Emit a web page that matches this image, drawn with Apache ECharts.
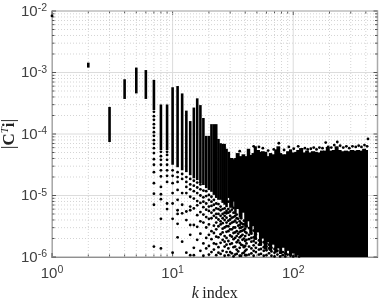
<!DOCTYPE html>
<html><head><meta charset="utf-8">
<style>html,body{margin:0;padding:0;background:#fff}#c{width:381px;height:301px}</style>
<script src="https://cdn.jsdelivr.net/npm/echarts@6/dist/echarts.min.js"></script>
</head><body><div id="c"></div>
<script>
// all magnitudes are log10(|C^T i|)
const xMajor = [1, 10, 100];
const xMinor = [2,3,4,5,6,7,8,9,20,30,40,50,60,70,80,90,200,300,400];
const yMajor = [1e-6,1e-5,1e-4,1e-3,1e-2];
const yMinor = [2e-6,3e-6,4e-6,5e-6,6e-6,7e-6,8e-6,9e-6,2e-5,3e-5,4e-5,5e-5,6e-5,7e-5,8e-5,9e-5,2e-4,3e-4,4e-4,5e-4,6e-4,7e-4,8e-4,9e-4,2e-3,3e-3,4e-3,5e-3,6e-3,7e-3,8e-3,9e-3];

// low-k columns that read as solid strokes
const colK   = [2,3,4,5,6,7,8,9,10,11,12,13,14,15,16,17,18,19,20,21,22,23,24,25,26,27,28];
const colTop = [-2.84,-3.56,-3.11,-2.92,-2.96,-3.12,-3.52,-3.52,-3.24,-3.22,-3.34,-3.62,-3.79,-3.57,-3.42,-3.53,-3.74,-4.03,-4.03,-3.84,-3.84,-3.84,-4.08,-4.15,-4.16,-4.16,-4.24];
const colBot = [-2.92,-4.13,-3.43,-3.34,-3.43,-3.61,-4.26,-4.26,-4.50,-4.54,-4.59,-4.62,-4.67,-4.72,-4.75,-4.80,-4.83,-4.88,-4.91,-4.94,-4.99,-5.04,-5.07,-5.07,-5.12,-5.15,-5.19];

// dense cloud: upper and lower limit of the solid area
const cloudK   = [29,30,32,33,34,36,38,40,42,44,46,48,50,53,55,58,61,64,67,71,74,78,81,86,89,94,98,104,108,114,121,128,135,143,152,160,170,180,190,201,213,225,238,252,268,285,300,320,339,358,380,402,417];
const cloudTop = [-4.29,-4.39,-4.41,-4.39,-4.31,-4.36,-4.33,-4.36,-4.24,-4.34,-4.31,-4.20,-4.26,-4.29,-4.28,-4.29,-4.36,-4.31,-4.33,-4.25,-4.20,-4.31,-4.33,-4.33,-4.28,-4.25,-4.30,-4.29,-4.26,-4.23,-4.30,-4.27,-4.30,-4.28,-4.29,-4.30,-4.27,-4.27,-4.21,-4.27,-4.26,-4.20,-4.26,-4.28,-4.27,-4.28,-4.26,-4.27,-4.26,-4.27,-4.24,-4.26,-4.26];
const cloudBot = [-5.04,-5.20,-5.10,-5.30,-5.22,-5.36,-5.28,-5.52,-5.42,-5.62,-5.50,-5.72,-5.60,-5.82,-5.70,-5.88,-5.76,-5.90,-5.80,-5.93,-5.86,-5.95,-5.85,-5.97,-5.90,-5.98,-5.94,-6,-5.97,-6,-6,-6,-6,-6,-6,-6,-6,-6,-6,-6,-6,-6,-6,-6,-6,-6,-6,-6,-6,-6,-6,-6,-6];

// separate points, one list per k
const dotK = [1,7,8,9,10,11,12,13,14,15,16,17,18,19,20,21,22,23,24,25,26,27,28,29,30,31,32,33,34,35,36,37,38,39,40,41,43,45,47,49,52,54,57,60,63,66,70,74,78,82,86,90,95,100,106,112,417];
const dotLog = [
 [-2.08],
 [-3.64,-3.71,-3.77,-3.84,-3.90,-3.97,-4.03,-4.10,-4.16,-4.23,-4.31,-4.41,-4.50,-4.62,-4.80,-4.97,-5.15,-5.83],
 [-4.29,-4.36,-4.42,-4.50,-4.59,-4.69,-4.86,-4.98,-5.06,-5.38,-5.86],
 [-4.29,-4.34,-4.42,-4.50,-4.59,-4.68,-4.78,-5.13,-5.22],
 [-4.59,-4.68,-4.80,-4.96,-5.13,-5.38,-5.93],
 [-4.62,-4.70,-4.78,-4.91,-5.07,-5.24,-5.30,-5.46,-5.68],
 [-4.65,-4.73,-4.96,-5.15,-5.29,-5.75],
 [-4.70,-4.78,-4.86,-4.96,-5.26,-5.40,-5.93],
 [-4.73,-4.82,-4.90,-5.02,-5.18,-5.24,-5.48,-5.64,-5.97],
 [-4.76,-4.84,-4.93,-5.05,-5.21,-5.48,-5.85,-5.97],
 [-4.79,-4.87,-4.96,-5.09,-5.16,-5.32,-5.51,-5.72],
 [-4.82,-4.90,-5.00,-5.12,-5.27,-5.42,-5.62,-5.90],
 [-4.92,-5.03,-5.10,-5.19,-5.31,-5.44,-5.78,-5.98],
 [-4.93,-5.01,-5.13,-5.23,-5.35,-5.52,-5.69,-5.86],
 [-4.99,-5.07,-5.18,-5.25,-5.38,-5.47,-5.64,-5.82,-5.96],
 [-5.02,-5.10,-5.17,-5.28,-5.37,-5.58,-5.71,-5.92],
 [-5.07,-5.15,-5.24,-5.33,-5.49,-5.61,-5.78,-5.88],
 [-5.13,-5.21,-5.30,-5.36,-5.44,-5.55,-5.67,-5.79,-5.97],
 [-5.14,-5.22,-5.30,-5.39,-5.50,-5.68,-5.84,-5.93],
 [-5.18,-5.24,-5.33,-5.42,-5.47,-5.63,-5.77,-5.95],
 [-5.22,-5.30,-5.37,-5.45,-5.54,-5.60,-5.72,-5.90],
 [-5.21,-5.28,-5.33,-5.40,-5.52,-5.66,-5.75,-5.83,-5.98],
 [-5.25,-5.29,-5.36,-5.44,-5.50,-5.59,-5.69,-5.80,-5.92],
 [-5.10,-5.22,-5.28,-5.41,-5.50,-5.58,-5.74,-5.86,-5.97],
 [-5.26,-5.33,-5.39,-5.46,-5.55,-5.65,-5.79,-5.92],
 [-5.17,-5.23,-5.36,-5.44,-5.55,-5.67,-5.78,-5.94],
 [-5.20,-5.28,-5.35,-5.43,-5.52,-5.61,-5.71,-5.84,-5.99],
 [-5.33,-5.41,-5.52,-5.60,-5.69,-5.83,-5.96],
 [-5.31,-5.37,-5.44,-5.58,-5.66,-5.76,-5.88,-5.95],
 [-5.38,-5.49,-5.62,-5.73,-5.91],
 [-5.42,-5.48,-5.53,-5.59,-5.68,-5.77,-5.85,-5.98],
 [-5.37,-5.45,-5.52,-5.58,-5.66,-5.80,-5.98],
 [-5.46,-5.51,-5.57,-5.64,-5.72,-5.81,-5.94],
 [-5.41,-5.47,-5.56,-5.70,-5.84,-5.93],
 [-5.54,-5.59,-5.66,-5.74,-5.82,-5.90,-5.97],
 [-5.50,-5.61,-5.72,-5.78,-5.88,-5.97],
 [-5.53,-5.64,-5.71,-5.83,-5.96],
 [-5.62,-5.69,-5.75,-5.86,-5.94],
 [-5.57,-5.68,-5.74,-5.81,-5.90,-5.98],
 [-5.63,-5.70,-5.77,-5.85,-5.92],
 [-5.73,-5.80,-5.88,-5.96],
 [-5.68,-5.75,-5.79,-5.87,-5.95],
 [-5.76,-5.84,-5.90,-5.98],
 [-5.78,-5.83,-5.89,-5.97],
 [-5.80,-5.86,-5.94],
 [-5.85,-5.91,-5.98],
 [-5.87,-5.93,-5.99],
 [-5.90,-5.96],
 [-5.93,-5.99],
 [-5.92,-5.97],
 [-5.94,-5.99],
 [-5.96],
 [-5.98],
 [-5.99],
 [-5.98],
 [-5.99],
 [-4.08]
];

// loose points just above the cloud's upper limit
const topK   = [36,47,52,56,62,69,76,84,92,101,110,118,125,132,140,148,156,165,175,186,195,207,219,232,245,260,276,292,310,330,349,368,390,410];
const topLog = [-4.28,-4.20,-4.21,-4.23,-4.27,-4.25,-4.15,-4.26,-4.21,-4.24,-4.20,-4.25,-4.23,-4.25,-4.24,-4.22,-4.25,-4.22,-4.23,-4.14,-4.21,-4.22,-4.18,-4.13,-4.19,-4.22,-4.20,-4.23,-4.20,-4.21,-4.19,-4.21,-4.18,-4.20];

const inkColor = '#000';
const tickText = '#404040';
const pow = v => Math.pow(10, v);

const colData = colK.map((k,i)=>[k,pow(colTop[i]),pow(colBot[i])]);
const cloudData = cloudK.slice(0,-1).map((k,i)=>[k,pow(cloudTop[i]),pow(cloudBot[i]),cloudK[i+1]]);
const dotData = [];
dotK.forEach((k,i)=>dotLog[i].forEach(v=>dotData.push([k,pow(v)])));
topK.forEach((k,i)=>dotData.push([k,pow(topLog[i])]));

const chart = echarts.init(document.getElementById('c'),null,{renderer:'canvas'});
function labelFmt(v){
  const e = Math.round(Math.log10(v));
  if (Math.abs(Math.log10(v)-e)>1e-6) return '';
  return '{b|10}{s|'+e+'}';
}
const rich = {b:{fontSize:15,fontFamily:'Liberation Sans',color:tickText,verticalAlign:'bottom',lineHeight:16},
              s:{fontSize:10.5,fontFamily:'Liberation Sans',color:tickText,verticalAlign:'top',padding:[0,0,7,0],lineHeight:16}};
function gridX(major){
  return function(params,api){
    const v=api.value(0), a=api.coord([v,1e-6]), b=api.coord([v,1e-2]);
    return {type:'group',silent:true,children:[
      {type:'line',shape:{x1:a[0],y1:a[1],x2:b[0],y2:b[1]},style:{stroke:major?'#dcdcdc':'#d4d4d4',lineWidth:1,lineDash:major?null:[1,2]}},
      {type:'line',shape:{x1:a[0],y1:a[1],x2:a[0],y2:a[1]-(major?4:2.5)},style:{stroke:'#555',lineWidth:1}},
      {type:'line',shape:{x1:b[0],y1:b[1],x2:b[0],y2:b[1]+(major?4:2.5)},style:{stroke:'#555',lineWidth:1}}
    ]};
  };
}
function gridY(major){
  return function(params,api){
    const v=api.value(1), a=api.coord([1,v]), b=api.coord([500,v]);
    return {type:'group',silent:true,children:[
      {type:'line',shape:{x1:a[0],y1:a[1],x2:b[0],y2:b[1]},style:{stroke:major?'#dcdcdc':'#d4d4d4',lineWidth:1,lineDash:major?null:[1,2]}},
      {type:'line',shape:{x1:a[0],y1:a[1],x2:a[0]+(major?4:2.5),y2:a[1]},style:{stroke:'#555',lineWidth:1}},
      {type:'line',shape:{x1:b[0],y1:b[1],x2:b[0]-(major?4:2.5),y2:b[1]},style:{stroke:'#555',lineWidth:1}}
    ]};
  };
}
const gridSeries = (data,fn)=>({type:'custom',data,renderItem:fn,z:1,silent:true,clip:false,animation:false});
chart.setOption({
  animation:false,
  backgroundColor:'#fff',
  grid:{left:52,right:3.5,top:11,bottom:44,outerBoundsMode:'none',containLabel:false,show:true,borderColor:'#aaa',borderWidth:1.5,backgroundColor:'#fff'},
  xAxis:{type:'log',logBase:10,min:1,max:500,
    axisLine:{show:true,onZero:false,lineStyle:{color:'#444',width:1}},axisTick:{show:false},splitLine:{show:false},
    axisLabel:{formatter:labelFmt,rich,margin:8,showMaxLabel:false,hideOverlap:false},
    name:'{i|k} {r|index}',nameLocation:'middle',nameGap:29,nameMoveOverlap:false,
    nameTextStyle:{rich:{i:{fontFamily:'Liberation Serif',fontStyle:'italic',fontSize:16,color:'#222'},r:{fontFamily:'Liberation Serif',fontSize:16,color:'#222'}}}},
  yAxis:{type:'log',logBase:10,min:1e-6,max:1e-2,
    axisLine:{show:true,lineStyle:{color:'#777',width:1}},axisTick:{show:false},splitLine:{show:false},
    axisLabel:{formatter:labelFmt,rich,margin:5},
    name:'{n||}{c|C}{t|T}{c|i}{n||}',nameLocation:'middle',nameGap:33,nameRotate:90,nameMoveOverlap:false,
    nameTextStyle:{rich:{n:{fontFamily:'Liberation Serif',fontSize:19,color:'#222'},
      c:{fontFamily:'Liberation Serif',fontWeight:'bold',fontSize:17,color:'#222'},
      t:{fontFamily:'Liberation Serif',fontStyle:'italic',fontSize:11,color:'#222',verticalAlign:'top',padding:[0,0,8,0]}}}},
  series:[
    gridSeries(xMinor.map(v=>[v,1e-4]),gridX(false)),
    gridSeries(xMajor.map(v=>[v,1e-4]),gridX(true)),
    gridSeries(yMinor.map(v=>[10,v]),gridY(false)),
    gridSeries(yMajor.map(v=>[10,v]),gridY(true)),
    {type:'custom',data:colData,z:3,silent:true,encode:{x:0,y:[1,2]},renderItem(p,api){
      const a=api.coord([api.value(0),api.value(1)]), b=api.coord([api.value(0),api.value(2)]);
      return {type:'rect',shape:{x:a[0]-1.3,y:a[1],width:2.6,height:b[1]-a[1]},style:{fill:inkColor}};
    }},
    {type:'custom',data:cloudData,z:3,silent:true,encode:{x:0,y:[1,2]},renderItem(p,api){
      const a=api.coord([api.value(0),api.value(1)]), b=api.coord([api.value(3),api.value(2)]);
      return {type:'rect',shape:{x:a[0]-1,y:a[1],width:b[0]-a[0]+1,height:b[1]-a[1]},style:{fill:inkColor}};
    }},
    {type:'scatter',data:dotData,symbol:'circle',symbolSize:2.8,itemStyle:{color:inkColor,opacity:1},z:4,silent:true,clip:false,large:false}
  ]
});
</script></body></html>
